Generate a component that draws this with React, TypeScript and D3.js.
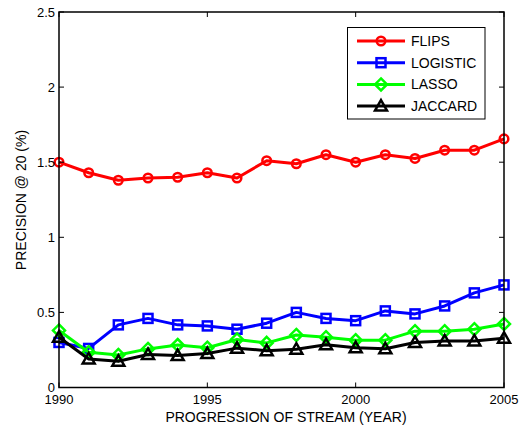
import React from "react";
import * as d3 from "d3";

const years = [1990, 1991, 1992, 1993, 1994, 1995, 1996, 1997, 1998, 1999, 2000, 2001, 2002, 2003, 2004, 2005];
const flips = [1.5, 1.43, 1.38, 1.395, 1.4, 1.43, 1.395, 1.51, 1.49, 1.55, 1.5, 1.55, 1.525, 1.58, 1.58, 1.655];
const logistic = [0.3, 0.26, 0.417, 0.46, 0.417, 0.41, 0.388, 0.428, 0.5, 0.46, 0.445, 0.51, 0.49, 0.543, 0.63, 0.683];
const lasso = [0.38, 0.235, 0.217, 0.257, 0.283, 0.265, 0.32, 0.297, 0.35, 0.335, 0.315, 0.315, 0.375, 0.375, 0.388, 0.423];
const jaccard = [0.335, 0.19, 0.175, 0.22, 0.213, 0.226, 0.262, 0.245, 0.255, 0.285, 0.265, 0.258, 0.3, 0.31, 0.31, 0.328];

const seriesNames = ["FLIPS", "LOGISTIC", "LASSO", "JACCARD"];
const seriesColors = ["#ff0000", "#0000ff", "#00ff00", "#000000"];
const seriesMarkers = ["circle", "square", "diamond", "triangle"];
const seriesValues = [flips, logistic, lasso, jaccard];

const xTicks = [1990, 1995, 2000, 2005];
const yTicks = [0, 0.5, 1, 1.5, 2, 2.5];

const W = 529;
const H = 431;
const left = 59;
const right = 504;
const top = 12;
const bottom = 387.5;

const x = d3.scaleLinear().domain([1990, 2005]).range([left, right]);
const y = d3.scaleLinear().domain([0, 2.5]).range([bottom, top]);

function Marker({ kind, cx, cy, color }: { kind: string; cx: number; cy: number; color: string }) {
  const sw = 2.5;
  if (kind === "circle") {
    return <circle cx={cx} cy={cy} r={4.3} fill="none" stroke={color} strokeWidth={sw} />;
  }
  if (kind === "square") {
    return <rect x={cx - 4.5} y={cy - 4.5} width={9} height={9} fill="none" stroke={color} strokeWidth={sw} />;
  }
  if (kind === "diamond") {
    const s = 6;
    return (
      <path d={`M${cx},${cy - s}L${cx + s},${cy}L${cx},${cy + s}L${cx - s},${cy}Z`} fill="none" stroke={color} strokeWidth={sw} />
    );
  }
  const s = 6;
  return (
    <path
      d={`M${cx},${cy - s}L${cx + s},${cy + s * 0.75}L${cx - s},${cy + s * 0.75}Z`}
      fill="none"
      stroke={color}
      strokeWidth={sw}
      strokeLinejoin="miter"
    />
  );
}

export default function App() {
  const line = d3
    .line<number>()
    .x((_, i) => x(years[i]))
    .y((v) => y(v));

  const font = "'Liberation Sans', Arial, Helvetica, sans-serif";
  const tickLen = 5;

  return (
    <svg
      width={W}
      height={H}
      style={{ position: "absolute", left: 0, top: 0, background: "#fff" }}
      fontFamily={font}
    >
      <rect x={0} y={0} width={W} height={H} fill="#fff" />

      {/* series lines and markers */}
      {seriesValues.map((vals, si) => (
        <g key={seriesNames[si]}>
          <path d={line(vals) || ""} fill="none" stroke={seriesColors[si]} strokeWidth={3} strokeLinejoin="round" />
          {vals.map((v, i) => (
            <Marker key={i} kind={seriesMarkers[si]} cx={x(years[i])} cy={y(v)} color={seriesColors[si]} />
          ))}
        </g>
      ))}

      {/* axes box */}
      <rect x={left} y={top} width={right - left} height={bottom - top} fill="none" stroke="#000" strokeWidth={1.5} />

      {/* x ticks */}
      {xTicks.map((t) => (
        <g key={t}>
          <line x1={x(t)} x2={x(t)} y1={bottom} y2={bottom - tickLen} stroke="#000" strokeWidth={1} />
          <line x1={x(t)} x2={x(t)} y1={top} y2={top + tickLen} stroke="#000" strokeWidth={1} />
          <text x={x(t)} y={403.5} textAnchor="middle" fontSize={13} fill="#000">
            {t}
          </text>
        </g>
      ))}

      {/* y ticks */}
      {yTicks.map((t) => (
        <g key={t}>
          <line x1={left} x2={left + tickLen} y1={y(t)} y2={y(t)} stroke="#000" strokeWidth={1} />
          <line x1={right} x2={right - tickLen} y1={y(t)} y2={y(t)} stroke="#000" strokeWidth={1} />
          <text x={55} y={y(t) + 4.5} textAnchor="end" fontSize={13} fill="#000">
            {t}
          </text>
        </g>
      ))}

      {/* axis labels */}
      <text x={286} y={422} textAnchor="middle" fontSize={14} fill="#000">
        PROGRESSION OF STREAM (YEAR)
      </text>
      <text transform="translate(26,200) rotate(-90)" textAnchor="middle" fontSize={14} fill="#000">
        PRECISION @ 20 (%)
      </text>

      {/* legend */}
      <g>
        <rect x={347.5} y={27.5} width={137.5} height={91.5} fill="#fff" stroke="#000" strokeWidth={1} />
        {seriesNames.map((name, i) => {
          const ly = 41 + i * 21.7;
          return (
            <g key={name}>
              <line x1={357} x2={405} y1={ly} y2={ly} stroke={seriesColors[i]} strokeWidth={3} />
              <Marker kind={seriesMarkers[i]} cx={381} cy={ly} color={seriesColors[i]} />
              <text x={411} y={ly + 5} fontSize={14} fill="#000">
                {name}
              </text>
            </g>
          );
        })}
      </g>
    </svg>
  );
}
